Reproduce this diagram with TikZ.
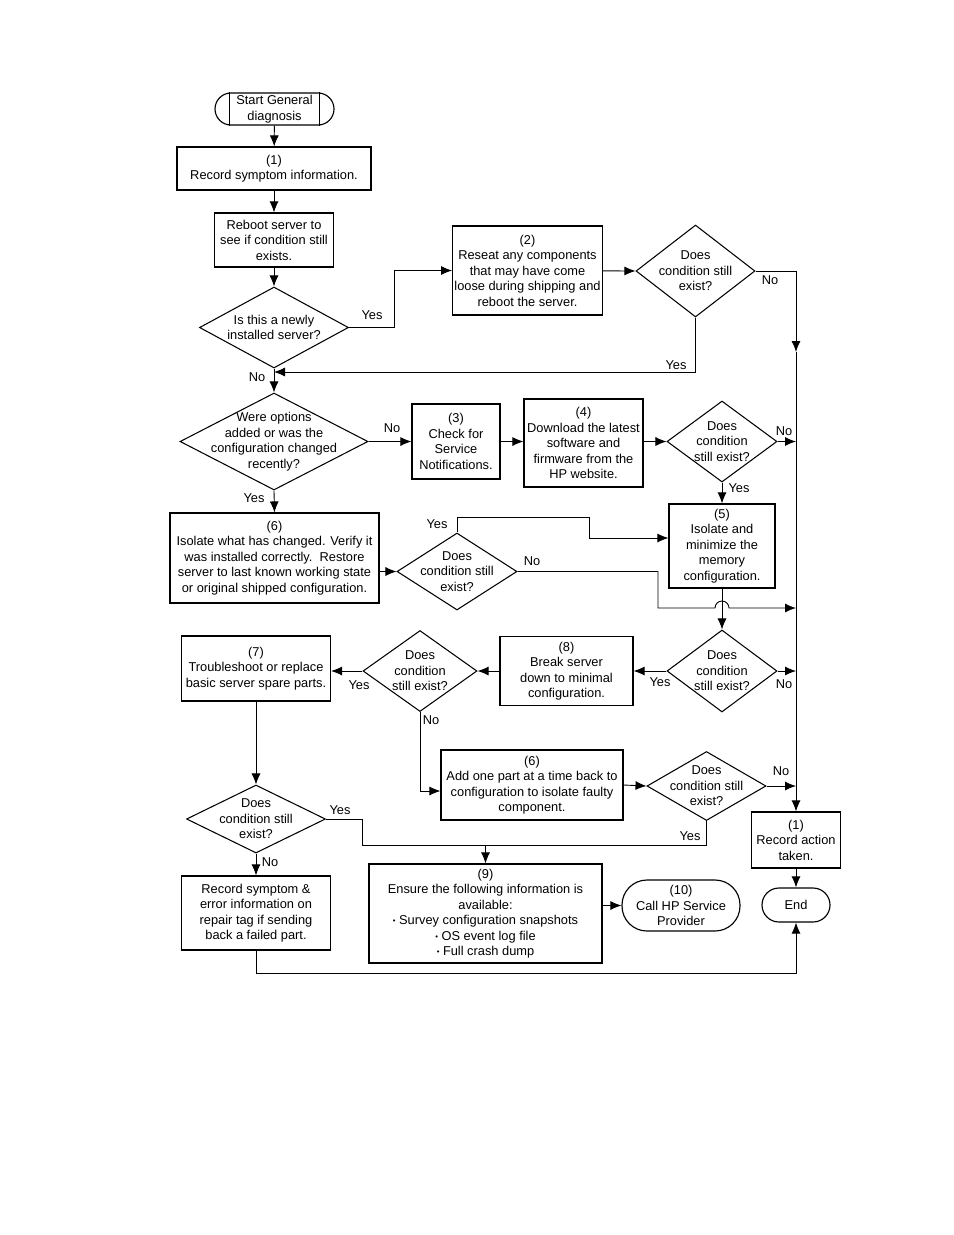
\documentclass[tikz,border=0pt]{standalone}
\usepackage{fontspec}
\setmainfont{Liberation Sans}
\usetikzlibrary{shapes.geometric,arrows.meta}
\newcommand{\px}{0.02cm}
\newcommand{\blt}{\raisebox{.15ex}{\scalebox{.6}{\textbullet}}\ }
\tikzset{
  txt/.style={font=\fontsize{7.3}{8.8}\selectfont},
  sz/.style 2 args={minimum width=#1*\px, minimum height=#2*\px},
  box/.style={draw, rectangle, align=center, inner sep=1pt, line width=0.65pt, txt},
  term/.style={box, rounded corners=#1*\px},
  dec/.style={draw, diamond, inner sep=0pt, line width=0.6pt},
  dectext/.style={align=center, inner sep=0pt, txt},
  lbl/.style={inner sep=1pt, txt},
  arr/.style={-{Latex[length=2.2mm,width=1.8mm]}, line width=0.5pt},
  ln/.style={line width=0.5pt}
}
\begin{document}
\begin{tikzpicture}[x=\px, y=-\px]
  \useasboundingbox (0,0) rectangle (954,1235);
  % terminals and boxes
  \node[term=16, sz={119}{32}] (start) at (274.5,109) {Start General\\diagnosis};
  \draw[line width=0.65pt] ([xshift=15*\px]start.north west) -- ([xshift=15*\px]start.south west);
  \draw[line width=0.65pt] ([xshift=-15*\px]start.north east) -- ([xshift=-15*\px]start.south east);
  \node[box, sz={194}{43}] (b1) at (274,168.5) {(1)\\Record symptom information.};
  \node[box, sz={119}{54}] (reboot) at (274,240) {Reboot server to\\see if condition still\\exists.};
  \node[dec, sz={149}{81}, label={[dectext]center:{Is this a newly\\installed server?}}] (d1) at (274,327.5) {};
  \node[box, sz={149}{89}] (b2) at (527.5,270.5) {(2)\\Reseat any components\\that may have come\\loose during shipping and\\reboot the server.};
  \node[dec, sz={119}{92}, label={[dectext]center:{Does\\condition still\\exist?}}] (d2) at (695.5,271) {};
  \node[dec, sz={188}{97}, label={[dectext]center:{Were options\\added or was the\\configuration changed\\recently?}}] (d3) at (274,441.5) {};
  \node[box, sz={88}{75}] (b3) at (456,441.5) {(3)\\Check for\\Service\\Notifications.};
  \node[box, sz={119}{88}] (b4) at (583.5,443) {(4)\\Download the latest\\software and\\firmware from the\\HP website.};
  \node[dec, sz={110}{81}, label={[dectext]center:{Does\\condition\\still exist?}}] (d4) at (722,441.5) {};
  \node[box, sz={106}{84}] (b5) at (722,546) {(5)\\Isolate and\\minimize the\\memory\\configuration.};
  \node[box, sz={209}{90}] (b6) at (274.5,558) {(6)\\Isolate what has changed. Verify it\\was installed correctly.\ \ Restore\\server to last known working state\\or original shipped configuration.};
  \node[dec, sz={120}{77}, label={[dectext]center:{Does\\condition still\\exist?}}] (d5) at (457,571.5) {};
  \node[dec, sz={110}{82}, label={[dectext]center:{Does\\condition\\still exist?}}] (d6) at (722,671) {};
  \node[box, sz={133}{69}] (b8) at (566.5,671) {(8)\\Break server\\down to minimal\\configuration.};
  \node[dec, sz={114}{81}, label={[dectext]center:{Does\\condition\\still exist?}}] (d7) at (420,671) {};
  \node[box, sz={149}{65}] (b7) at (256,668.5) {(7)\\Troubleshoot or replace\\basic server spare parts.};
  \node[box, sz={182}{70}] (b6b) at (532,785) {(6)\\Add one part at a time back to\\configuration to isolate faulty\\component.};
  \node[dec, sz={119}{69}, label={[dectext]center:{Does\\condition still\\exist?}}] (d8) at (706.5,786) {};
  \node[dec, sz={139}{68}, label={[dectext]center:{Does\\condition still\\exist?}}] (d9) at (256,819) {};
  \node[box, sz={149}{74}] (rec) at (256,913) {Record symptom \&\\error information on\\repair tag if sending\\back a failed part.};
  \node[box, sz={233}{99}] (b9) at (485.5,913.5) {(9)\\Ensure the following information is\\available:\\\blt Survey configuration snapshots\\\blt OS event log file\\\blt Full crash dump};
  \node[term=25, sz={118}{51}] (call) at (681,905.5) {(10)\\Call HP Service\\Provider};
  \node[box, sz={89}{56}] (act) at (796,840) {(1)\\Record action\\taken.};
  \node[term=17, sz={68}{34}] (endn) at (796,905) {End};
  \coordinate (tr) at (796,352);
  \coordinate (j1) at (274,372);
  \coordinate (j2) at (589,538);
  \coordinate (j3) at (362,845);
  % connectors
  \draw[arr] (start) -- (b1);
  \draw[arr] (b1) -- (reboot);
  \draw[arr] (reboot) -- (d1.north);
  \draw[arr] (d1.east) -- ++(45,0) |- (b2.west);
  \draw[arr] (b2) -- (d2.west);
  \draw[arr] (d2.east) -| (tr);
  \draw[arr] (tr) -- (act.north);
  \draw[arr] (d2.south) |- (j1);
  \draw[arr] (d1.south) -- (d3.north);
  \draw[arr] (d3.east) -- (b3.west);
  \draw[arr] (b3.east) -- (b3.east -| b4.west);
  \draw[arr] (b4.east |- d4.west) -- (d4.west);
  \draw[arr] (d4.east) -- (d4.east -| act.north);
  \draw[arr] (d4.south) -- (b5.north);
  \draw[arr] (d3.south) -- (b6.north);
  \draw[arr] (b6.east |- d5.west) -- (d5.west);
  \draw[arr] (d5.north) -- ++(0,-15) -| (j2) -- (j2 -| b5.west);
  \draw[arr] (d5.east) -| (658,608) -- (715,608) arc[start angle=180, end angle=0, radius=7*\px] -- (796,608);
  \draw[arr] (b5.south) -- (d6.north);
  \draw[arr] (d6.east) -- (d6.east -| act.north);
  \draw[arr] (d6.west) -- (b8.east);
  \draw[arr] (b8.west) -- (d7.east);
  \draw[arr] (d7.west) -- (d7.west -| b7.east);
  \draw[arr] (d7.south) |- ([yshift=-6*\px]b6b.west);
  \draw[arr] (b6b.east) -- (d8.west);
  \draw[arr] (d8.east) -- (d8.east -| act.north);
  \draw[arr] (b7.south) -- (d9.north);
  \draw[arr] (d9.south) -- (rec.north);
  \draw[ln] (d9.east) -| (j3) -| (d8.south);
  \draw[arr] (b9.north |- j3) -- (b9.north);
  \draw[arr] (b9.east |- call.west) -- (call.west);
  \draw[arr] (act.south) -- (endn.north);
  \draw[arr] (rec.south) -- ++(0,23) -| (endn.south);
  % labels
  \node[lbl] (y1) at (372,315) {Yes};
  \node[lbl] (n1) at (257,377) {No};
  \node[lbl] (n2) at (770,280) {No};
  \node[lbl] (y2) at (676,365) {Yes};
  \node[lbl] (n3) at (392,428) {No};
  \node[lbl] (y3) at (254,498) {Yes};
  \node[lbl] (n4) at (784,431) {No};
  \node[lbl] (y4) at (739,488) {Yes};
  \node[lbl] (y5) at (437,524) {Yes};
  \node[lbl] (n5) at (532,561) {No};
  \node[lbl] (y6) at (660,682) {Yes};
  \node[lbl] (n6) at (784,684) {No};
  \node[lbl] (y7) at (359,685) {Yes};
  \node[lbl] (n7) at (431,720) {No};
  \node[lbl] (n8) at (781,771) {No};
  \node[lbl] (y8) at (690,836) {Yes};
  \node[lbl] (y9) at (340,810) {Yes};
  \node[lbl] (n9) at (270,862) {No};
\end{tikzpicture}
\end{document}
